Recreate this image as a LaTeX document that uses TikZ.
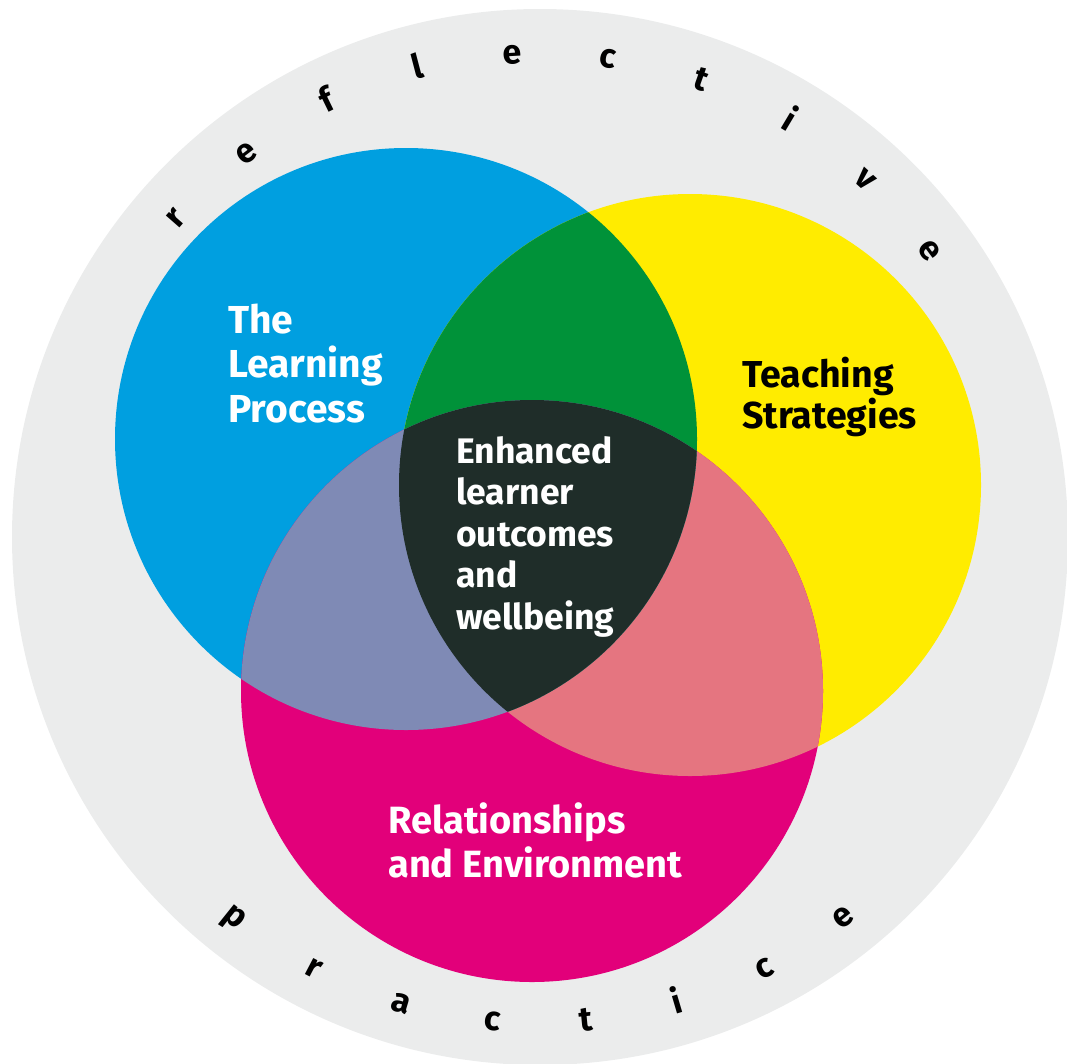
\documentclass[tikz,border=0pt]{standalone}
\usepackage{fontspec}
\setmainfont{Fira Sans}
\usepackage{tikz}
\definecolor{ringgrey}{HTML}{EBECEC}
\definecolor{vblue}{HTML}{009FE0}
\definecolor{vyellow}{HTML}{FFEC00}
\definecolor{vmagenta}{HTML}{E2007A}
\definecolor{vgreen}{HTML}{009239}
\definecolor{vpurple}{HTML}{7F8AB5}
\definecolor{vsalmon}{HTML}{E57580}
\definecolor{vdark}{HTML}{1F2D29}

\begin{document}
\begin{tikzpicture}[x=1pt, y=-1pt, label/.style = {align=left, anchor=base west, inner sep=0pt}, letter/.style = {font=\fontsize{34}{34}\selectfont\bfseries, anchor=base, inner sep=0pt}]
                \useasboundingbox (0,0) rectangle (1067,1063);
                \fill[ringgrey] (540,537) circle (528pt);
                \fill[vblue] (406,439) circle (291pt);
                \fill[vyellow] (690,485) circle (291pt);
                \fill[vmagenta] (532,691) circle (291pt);
                \begin{scope}
                    \clip (690,485) circle (291pt);
                    \fill[vsalmon] (532,691) circle (291pt);
                \end{scope}
                \begin{scope}
                    \clip (406,439) circle (291pt);
                    \fill[vgreen] (690,485) circle (291pt);
                    \fill[vpurple] (532,691) circle (291pt);
                    \clip (690,485) circle (291pt);
                    \fill[vdark] (532,691) circle (291pt);
                \end{scope}
                \node[label, white, font=\fontsize{39}{44.5}\selectfont\bfseries] (learning) at (228,422) {The\\Learning\\Process};
                \node[label, black, font=\fontsize{37.5}{41}\selectfont\bfseries] (teaching) at (742,428) {Teaching\\Strategies};
                \node[label, white, font=\fontsize{38}{44}\selectfont\bfseries] (relations) at (388,877) {Relationships\\and Environment};
                \node[label, white, font=\fontsize{35.5}{41.5}\selectfont\bfseries] (outcomes) at (456,629) {Enhanced\\learner\\outcomes\\and\\wellbeing};
                \begin{scope}[shift={(540,537)}]
                    \foreach \ch [count=\i from 0] in {r,e,f,l,e,c,t,i,v,e}
                        \node[letter, rotate=138.8-11.38*\i-90] (refl\i) at (138.8-11.38*\i:474pt) {\ch};
                    \foreach \ch [count=\i from 0] in {p,r,a,c,t,i,c,e}
                        \node[letter, rotate=-128.7+11.03*\i+90] (prac\i) at (-128.7+11.03*\i:496pt) {\ch};
                \end{scope}
            \end{tikzpicture}
\end{document}
